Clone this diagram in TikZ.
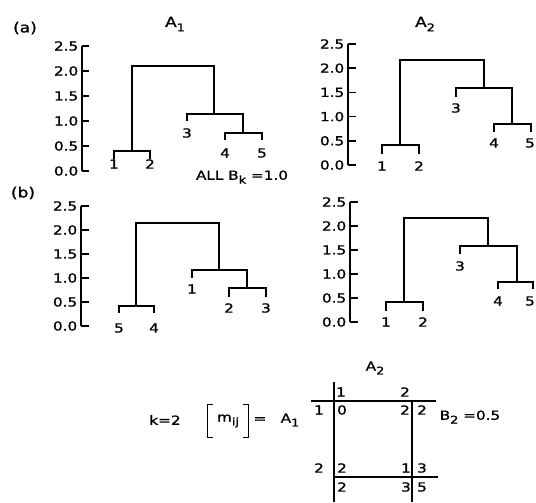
\documentclass[tikz,border=0pt]{standalone}
\usepackage{fontspec}
\setmainfont{DejaVu Sans}[FakeStretch=1.22,FakeBold=1.2]
\usetikzlibrary{positioning}
\newcommand{\lo}[1]{\raisebox{-0.55ex}{\fontsize{10.5}{10.5}\selectfont #1}}

\begin{document}
\begin{tikzpicture}[x=1pt,y=-1pt,line width=1.5pt,
	lbl/.style={inner sep=0pt,font=\fontsize{12.5}{13}\selectfont},
	ttl/.style={inner sep=0pt,font=\fontsize{14}{15}\selectfont}]
	\useasboundingbox (0,0) rectangle (536,503);
	
	% (a) A1
	\node [ttl] (pa) at (25,28) {(a)};
	\node [ttl] (tA1) at (175,24) {A\lo{1}};
	\draw (82,46)--(82,171);
	\foreach \t [count=\i from 0] in {0.0,0.5,1.0,1.5,2.0,2.5} {
		\draw (82,171-25*\i)--(89,171-25*\i);
		\node [lbl,anchor=east] (aly\i) at (79,171-25*\i) {\t};
	}
	\draw (114,159)--(114,151)--(150,151)--(150,159);
	\draw (132,151)--(132,66)--(214,66)--(214,114);
	\draw (187,121)--(187,114)--(243,114)--(243,133);
	\draw (225,140)--(225,133)--(262,133)--(262,140);
	\node [lbl] (al1) at (114,164) {1};
	\node [lbl] (al2) at (150,164) {2};
	\node [lbl] (al3) at (187,133) {3};
	\node [lbl] (al4) at (225,153) {4};
	\node [lbl] (al5) at (262,153) {5};
	
	% (a) A2
	\node [ttl] (tA2) at (425,24) {A\lo{2}};
	\draw (348,44)--(348,165);
	\foreach \t [count=\i from 0] in {0.0,0.5,1.0,1.5,2.0,2.5} {
		\draw (348,165-24.2*\i)--(356,165-24.2*\i);
		\node [lbl,anchor=east] (ary\i) at (345,165-24.2*\i) {\t};
	}
	\draw (382,154)--(382,145)--(419,145)--(419,154);
	\draw (400,145)--(400,60)--(484,60)--(484,88);
	\draw (456,97)--(456,88)--(512,88)--(512,124);
	\draw (494,132)--(494,124)--(531,124)--(531,132);
	\node [lbl] (ar1) at (382,166) {1};
	\node [lbl] (ar2) at (419,166) {2};
	\node [lbl] (ar3) at (456,108) {3};
	\node [lbl] (ar4) at (494,143) {4};
	\node [lbl] (ar5) at (530,143) {5};
	
	\node [lbl] (allb) at (242,177) {ALL B\lo{k} =1.0};
	
	% (b) A1
	\node [ttl] (pb) at (23,193) {(b)};
	\draw (81,206)--(81,326);
	\foreach \t [count=\i from 0] in {0.0,0.5,1.0,1.5,2.0,2.5} {
		\draw (81,326-24*\i)--(89,326-24*\i);
		\node [lbl,anchor=east] (bly\i) at (78,326-24*\i) {\t};
	}
	\draw (119,313)--(119,306)--(154,306)--(154,313);
	\draw (136,306)--(136,223)--(219,223)--(219,270);
	\draw (192,278)--(192,270)--(247,270)--(247,288);
	\draw (229,297)--(229,288)--(266,288)--(266,297);
	\node [lbl] (bl5) at (119,328) {5};
	\node [lbl] (bl4) at (154,328) {4};
	\node [lbl] (bl1) at (192,289) {1};
	\node [lbl] (bl2) at (229,308) {2};
	\node [lbl] (bl3) at (266,308) {3};
	
	% (b) A2
	\draw (350,202)--(350,322);
	\foreach \t [count=\i from 0] in {0.0,0.5,1.0,1.5,2.0,2.5} {
		\draw (350,322-24*\i)--(358,322-24*\i);
		\node [lbl,anchor=east] (bry\i) at (347,322-24*\i) {\t};
	}
	\draw (386,311)--(386,302)--(423,302)--(423,311);
	\draw (404,302)--(404,218)--(488,218)--(488,246);
	\draw (460,254)--(460,246)--(517,246)--(517,282);
	\draw (498,289)--(498,282)--(533,282)--(533,289);
	\node [lbl] (br1) at (386,322) {1};
	\node [lbl] (br2) at (423,322) {2};
	\node [lbl] (br3) at (460,266) {3};
	\node [lbl] (br4) at (498,301) {4};
	\node [lbl] (br5) at (530,301) {5};
	
	% matrix m_ij
	\node [lbl] (k2) at (165,420) {k=2};
	\node [lbl,minimum height=32pt,minimum width=40pt] (mij) at (228,421) {m\lo{ij}};
	\draw [line width=1.3pt] ([xshift=6pt]mij.north west)--(mij.north west)--(mij.south west)--([xshift=6pt]mij.south west);
	\draw [line width=1.3pt] ([xshift=-6pt]mij.north east)--(mij.north east)--(mij.south east)--([xshift=-6pt]mij.south east);
	\node [lbl] (eq) at (260,420) {=};
	\node [lbl] (mA1) at (290,420) {A\lo{1}};
	\node [lbl] (mA2) at (375,368) {A\lo{2}};
	\node [lbl] (b2) at (470,417) {B\lo{2} =0.5};
	
	\draw (334,382)--(334,502);
	\draw (412,401)--(412,502);
	\draw (311,401)--(436,401);
	\draw (334,477)--(438,477);
	
	\node [lbl] (c1) at (341,392) {1};
	\node [lbl] (c2) at (405,392) {2};
	\node [lbl] (r1) at (319,410) {1};
	\node [lbl] (r2) at (319,468) {2};
	\node [lbl] (m11) at (342,410) {0};
	\node [lbl] (m12) at (405,410) {2};
	\node [lbl] (m21) at (342,468) {2};
	\node [lbl] (m22) at (406,468) {1};
	\node [lbl] (s1) at (422,410) {2};
	\node [lbl] (s2) at (422,468) {3};
	\node [lbl] (t1) at (342,487) {2};
	\node [lbl] (t2) at (406,487) {3};
	\node [lbl] (t3) at (422,487) {5};
	
\end{tikzpicture}
\end{document}
